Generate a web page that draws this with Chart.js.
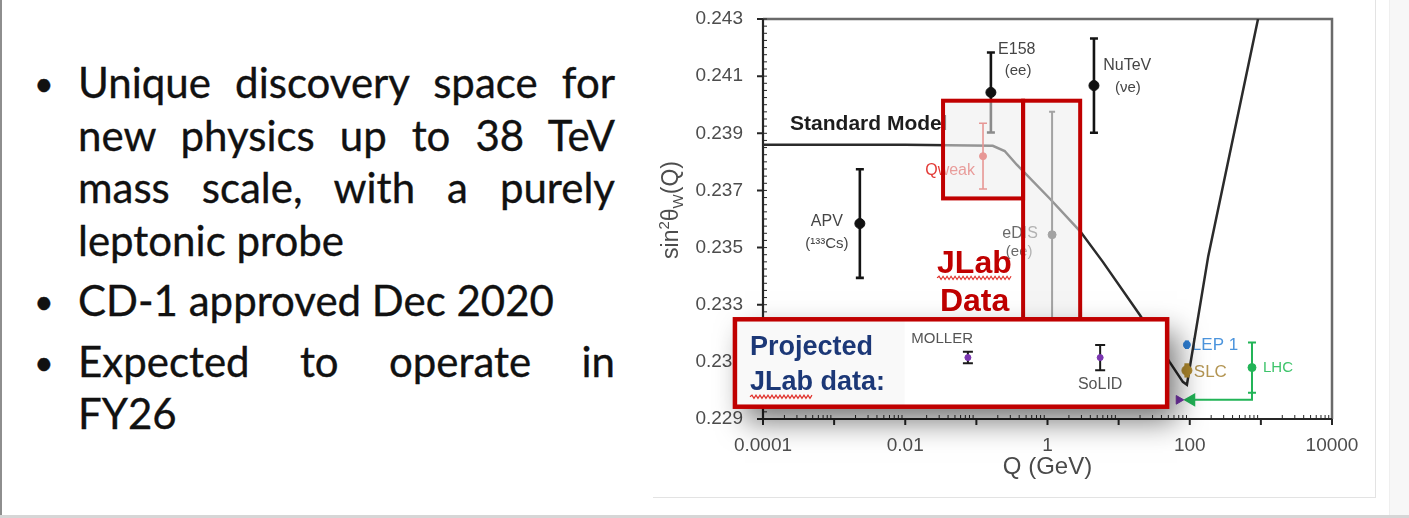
<!DOCTYPE html>
<html>
<head>
<meta charset="utf-8">
<script src="https://cdn.jsdelivr.net/npm/chart.js@4.4.1/dist/chart.umd.min.js"></script>
<style>
  html, body { margin: 0; padding: 0; background: #fff; }
  body { width: 1409px; height: 518px; position: relative; overflow: hidden; }
  #edgeL { position: absolute; left: 0; top: 0; width: 2px; height: 518px; background: #8e8e8e; }
  #edgeB { position: absolute; left: 0; top: 515px; width: 1409px; height: 3px; background: #d6d6d6; }
  #edgeR { position: absolute; left: 1389px; top: 0; width: 20px; height: 515px; background: #f7f7f7; border-left: 1px solid #efefef; }
  #frame { position: absolute; left: 653px; top: -2px; width: 722px; height: 499px;
           border-right: 1px solid #e3e3e3; border-bottom: 1px solid #e3e3e3; }
  #bullets { position: absolute; left: 78px; top: 56px; width: 537px;
             font-family: Lato, "Open Sans", sans-serif; font-size: 42px; line-height: 52.5px; color: #111;
             -webkit-text-stroke: 0.35px #111; }
  .item { position: relative; margin-bottom: 8px; }
  .dot { position: absolute; left: -44px; top: 1px; font-size: 34px; }
  .jl { display: block; text-align: justify; text-align-last: justify; white-space: nowrap; }
  .ll { display: block; white-space: nowrap; }
  #wrap { position: absolute; left: 653px; top: 0; width: 730px; height: 497px; }
  #wrap canvas { filter: blur(0.75px); }
</style>
</head>
<body>
<div id="edgeL"></div>
<div id="edgeR"></div>
<div id="edgeB"></div>
<div id="frame"></div>

<div id="bullets">
  <div class="item"><span class="dot">•</span>
    <span class="jl">Unique discovery space for</span>
    <span class="jl">new physics up to 38 TeV</span>
    <span class="jl">mass scale, with a purely</span>
    <span class="ll">leptonic probe</span>
  </div>
  <div class="item"><span class="dot">•</span>
    <span class="ll">CD-1 approved Dec 2020</span>
  </div>
  <div class="item"><span class="dot">•</span>
    <span class="jl">Expected to operate in</span>
    <span class="ll">FY26</span>
  </div>
</div>

<div id="wrap"><canvas id="c"></canvas></div>

<script>
// ---- axes ----
const Q_TICKS = [1e-4, 1e-2, 1, 1e2, 1e4];
const Q_TICK_LABELS = ['0.0001', '0.01', '1', '100', '10000'];
const S_TICKS = [0.229, 0.231, 0.233, 0.235, 0.237, 0.239, 0.241, 0.243];
const S_TICK_LABELS = ['0.229', '0.231', '0.233', '0.235', '0.237', '0.239', '0.241', '0.243'];

// ---- Standard Model running of sin^2(theta_W) ----
const smQ = [0.0001, 0.01, 0.17, 0.25, 0.37, 1.09, 2.9, 6.0, 20, 52, 80, 91.2, 182, 912];
const smS = [0.2386, 0.2386, 0.23856, 0.23838, 0.2379, 0.2367, 0.23556, 0.2345, 0.23263, 0.2310, 0.2303, 0.2302, 0.2347, 0.2430];

// ---- measurements ----
const worldNames = ['APV', 'E158', 'NuTeV'];
const worldQ   = [0.0023, 0.16, 4.5];
const worldS   = [0.23584, 0.24043, 0.24067];
const worldErr = [0.0019, 0.0014, 0.00165];

const qweakQ = [0.124];
const qweakS = [0.2382];
const qweakErr = [0.00115];

const edisQ = [1.16];
const edisS = [0.23545];
const edisErr = [0.0043];

const lepQ = [91.2];
const lepS = [0.2316];
const lepErr = [0.00015];

const slcQ = [91.2];
const slcS = [0.2307];
const slcErr = [0.00025];

const lhcQ = [750];
const lhcS = [0.2308];
const lhcErr = [0.00088];

// arrow from the LHC point back to the Z pole
const lhcArrowQ = [750, 750, 105];
const lhcArrowS = [0.22992, 0.22967, 0.22967];

const zPoleProjQ = [70];
const zPoleProjS = [0.22967];

// ---- projected JLab measurements ----
const projNames = ['MOLLER', 'SoLID'];
const projQ   = [0.076, 5.5];
const projS   = [0.23115, 0.23115];
const projErr = [0.0002, 0.00044];

const FONT = '"Liberation Sans", Arial, Helvetica, sans-serif';
const RED = '#c00000';
const NAVY = '#1c3877';

const pts = (qs, ss) => qs.map((q, i) => ({ x: q, y: ss[i] }));

// text placed in data coordinates (Q, sin^2)
const underLabels = [
  { text: 'Standard Model', q: 2.4e-4, s: 0.23933, size: 21, bold: true, color: '#1d1d1d', align: 'left' },
  { text: worldNames[0], q: 7.9e-4, s: 0.23591, size: 16, color: '#454545' },
  { text: '(¹³³Cs)', q: 7.9e-4, s: 0.23514, size: 15, color: '#454545' },
  { text: worldNames[1], q: 0.2018, s: 0.24194, size: 16, color: '#454545', align: 'left' },
  { text: '(ee)', q: 0.386, s: 0.2412, size: 15, color: '#454545' },
  { text: worldNames[2], q: 13.2, s: 0.24138, size: 16, color: '#454545' },
  { text: '(νe)', q: 13.5, s: 0.2406, size: 15, color: '#454545' },
  { text: 'Qweak', q: 0.0427, s: 0.23768, size: 16, color: '#e33a36' },
  { text: 'eDIS', q: 0.412, s: 0.23549, size: 16, color: '#6a6a6a' },
  { text: '(ee)', q: 0.40, s: 0.23486, size: 15, color: '#6a6a6a' },
  { text: 'LEP 1', q: 107, s: 0.23158, size: 17, color: '#4b94dd', align: 'left' },
  { text: 'SLC', q: 114, s: 0.23062, size: 17, color: '#b39552', align: 'left' },
  { text: 'LHC', q: 1070, s: 0.2308, size: 15, color: '#3ec46b', align: 'left' }
];

// JLab highlight panels (Q range, sin^2 range)
const qweakPanel = { q0: 0.034, q1: 0.454, s0: 0.23672, s1: 0.24014 };
const edisPanel  = { q0: 0.454, q1: 2.88,  s0: 0.23249, s1: 0.24014 };
const projPanel  = { q0: 4.03e-5, q1: 48.1, s0: 0.22943, s1: 0.23249 };

function drawText(ctx, xs, ys, L) {
  ctx.font = (L.bold ? 'bold ' : '') + L.size + 'px ' + FONT;
  ctx.fillStyle = L.color;
  ctx.textAlign = L.align || 'center';
  ctx.textBaseline = 'middle';
  ctx.fillText(L.text, xs.getPixelForValue(L.q), ys.getPixelForValue(L.s));
}

function squiggle(ctx, x0, x1, y, color) {
  ctx.save();
  ctx.strokeStyle = color; ctx.lineWidth = 1.2;
  ctx.beginPath();
  let up = true;
  ctx.moveTo(x0, y);
  for (let x = x0 + 2; x <= x1; x += 2) { ctx.lineTo(x, up ? y - 1.6 : y + 1.6); up = !up; }
  ctx.stroke();
  ctx.restore();
}

function rectOf(xs, ys, p) {
  const x0 = xs.getPixelForValue(p.q0), x1 = xs.getPixelForValue(p.q1);
  const y0 = ys.getPixelForValue(p.s1), y1 = ys.getPixelForValue(p.s0);
  return [x0, y0, x1 - x0, y1 - y0];
}

function drawErrors(chart, ds) {
  const ctx = chart.ctx, xs = chart.scales.x, ys = chart.scales.y;
  ctx.save();
  ctx.strokeStyle = ds.errColor;
  ctx.lineWidth = ds.errWidth;
  ds.data.forEach((p, i) => {
    const e = ds.errors[i];
    const x = xs.getPixelForValue(p.x);
    const yt = ys.getPixelForValue(p.y + e), yb = ys.getPixelForValue(p.y - e);
    ctx.beginPath();
    ctx.moveTo(x, yt); ctx.lineTo(x, yb);
    if (ds.capHalf) {
      ctx.moveTo(x - ds.capHalf, yt); ctx.lineTo(x + ds.capHalf, yt);
      ctx.moveTo(x - ds.capHalf, yb); ctx.lineTo(x + ds.capHalf, yb);
    }
    ctx.stroke();
  });
  ctx.restore();
}

function drawJLab(chart) {
  const ctx = chart.ctx, xs = chart.scales.x, ys = chart.scales.y;
  ctx.save();
  // translucent panels over Qweak and eDIS
  [qweakPanel, edisPanel].forEach(p => {
    const r = rectOf(xs, ys, p);
    ctx.fillStyle = 'rgba(236,236,236,0.55)';
    ctx.fillRect(...r);
  });
  ctx.strokeStyle = RED; ctx.lineWidth = 4;
  [qweakPanel, edisPanel].forEach(p => ctx.strokeRect(...rectOf(xs, ys, p)));

  // "JLab Data"
  ctx.font = 'bold 32px ' + FONT;
  ctx.fillStyle = RED; ctx.textAlign = 'left'; ctx.textBaseline = 'middle';
  const jx = xs.getPixelForValue(0.028), jy = ys.getPixelForValue(0.23443);
  ctx.fillText('JLab', jx, jy);
  squiggle(ctx, jx, jx + ctx.measureText('JLab').width, jy + 14, '#e0302a');
  ctx.fillText('Data', xs.getPixelForValue(0.0307), ys.getPixelForValue(0.23309));

  // projected data panel with a drop shadow
  const r = rectOf(xs, ys, projPanel);
  ctx.save();
  ctx.shadowColor = 'rgba(0,0,0,0.55)';
  ctx.shadowBlur = 28; ctx.shadowOffsetX = 10; ctx.shadowOffsetY = 14;
  ctx.fillStyle = '#ffffff';
  ctx.fillRect(...r);
  ctx.restore();
  ctx.fillStyle = '#f9f9f9';
  ctx.fillRect(r[0], r[1], xs.getPixelForValue(0.0098) - r[0], r[3]);
  ctx.strokeStyle = RED; ctx.lineWidth = 4.5;
  ctx.strokeRect(...r);

  ctx.font = 'bold 27px ' + FONT;
  ctx.fillStyle = NAVY; ctx.textAlign = 'left'; ctx.textBaseline = 'middle';
  const px = xs.getPixelForValue(6.56e-5);
  ctx.fillText('Projected', px, ys.getPixelForValue(0.23151));
  const dy = ys.getPixelForValue(0.23027);
  ctx.fillText('JLab data:', px, dy);
  squiggle(ctx, px, px + ctx.measureText('JLab').width, dy + 14, '#e0302a');

  drawText(ctx, xs, ys, { text: projNames[0], q: 0.033, s: 0.23179, size: 15, color: '#555' });
  drawText(ctx, xs, ys, { text: projNames[1], q: 5.5, s: 0.2302, size: 16, color: '#555' });
  ctx.restore();
}

const figurePlugin = {
  id: 'figure',
  beforeDraw(chart) { chart.$jlabDone = false; },
  beforeDatasetsDraw(chart) {
    const ctx = chart.ctx, xs = chart.scales.x, ys = chart.scales.y, a = chart.chartArea;
    ctx.save();
    // top and right frame
    ctx.strokeStyle = '#6a6a6a'; ctx.lineWidth = 2.5;
    ctx.beginPath();
    ctx.moveTo(a.left, a.top); ctx.lineTo(a.right, a.top); ctx.lineTo(a.right, a.bottom);
    ctx.stroke();
    // axes
    ctx.strokeStyle = '#262626'; ctx.lineWidth = 2.2;
    ctx.beginPath();
    ctx.moveTo(a.left, a.top); ctx.lineTo(a.left, a.bottom); ctx.lineTo(a.right, a.bottom);
    ctx.stroke();
    // y minor ticks (inside) and major ticks (outside)
    ctx.lineWidth = 1;
    ctx.beginPath();
    for (let i = 0; i <= 56; i++) {
      const y = ys.getPixelForValue(0.229 + i * 0.00025);
      ctx.moveTo(a.left, y); ctx.lineTo(a.left + 4, y);
    }
    ctx.stroke();
    ctx.lineWidth = 2;
    ctx.beginPath();
    S_TICKS.forEach(v => { const y = ys.getPixelForValue(v); ctx.moveTo(a.left - 6, y); ctx.lineTo(a.left, y); });
    ctx.stroke();
    // x log ticks
    ctx.lineWidth = 1;
    ctx.beginPath();
    for (let e = -4; e < 4; e++) {
      for (let k = 2; k <= 9; k++) {
        const x = xs.getPixelForValue(k * Math.pow(10, e));
        ctx.moveTo(x, a.bottom); ctx.lineTo(x, a.bottom - 4);
      }
    }
    ctx.stroke();
    ctx.lineWidth = 2;
    ctx.beginPath();
    for (let e = -4; e <= 4; e++) {
      const x = xs.getPixelForValue(Math.pow(10, e));
      ctx.moveTo(x, a.bottom); ctx.lineTo(x, a.bottom + 6);
    }
    ctx.stroke();

    // y-axis title: sin²θ_W(Q)
    ctx.save();
    ctx.translate(17, 210);
    ctx.rotate(-Math.PI / 2);
    ctx.fillStyle = '#4d4d4d';
    ctx.textBaseline = 'alphabetic';
    ctx.textAlign = 'left';
    const big = '23px ' + FONT, small = '15px ' + FONT;
    const parts = [['sin', big, 0], ['2', small, -9], ['θ', big, 0], ['W', small, 5], ['(Q)', big, 0]];
    let w = 0;
    parts.forEach(p => { ctx.font = p[1]; w += ctx.measureText(p[0]).width; });
    let x = -w / 2;
    parts.forEach(p => { ctx.font = p[1]; ctx.fillText(p[0], x, 8 + p[2]); x += ctx.measureText(p[0]).width; });
    ctx.restore();

    underLabels.forEach(L => drawText(ctx, xs, ys, L));
    ctx.restore();
  },
  beforeDatasetDraw(chart, args) {
    const ds = chart.data.datasets[args.index];
    if (ds.projected && !chart.$jlabDone) { drawJLab(chart); chart.$jlabDone = true; }
    if (ds.errors) drawErrors(chart, ds);
  }
};

new Chart(document.getElementById('c'), {
  type: 'scatter',
  data: {
    datasets: [
      { label: 'Standard Model', data: pts(smQ, smS), showLine: true, borderColor: '#2b2b2b',
        borderWidth: 2.5, pointRadius: 0, order: 9 },
      { label: 'APV / E158 / NuTeV', data: pts(worldQ, worldS), errors: worldErr, errColor: '#141414',
        errWidth: 2.6, capHalf: 4, pointRadius: 5, backgroundColor: '#111', borderColor: '#111', order: 5 },
      { label: 'Qweak', data: pts(qweakQ, qweakS), errors: qweakErr, errColor: '#e0302a',
        errWidth: 1.6, capHalf: 4, pointRadius: 3.5, backgroundColor: '#e0302a', borderColor: '#e0302a', order: 6 },
      { label: 'eDIS', data: pts(edisQ, edisS), errors: edisErr, errColor: '#4a4a4a',
        errWidth: 2, capHalf: 3, pointRadius: 4, backgroundColor: '#4a4a4a', borderColor: '#4a4a4a', order: 6 },
      { label: 'LEP 1', data: pts(lepQ, lepS), errors: lepErr, errColor: '#2f80d6',
        errWidth: 4, pointRadius: 3.5, backgroundColor: '#2f80d6', borderColor: '#2f80d6', order: 4 },
      { label: 'SLC', data: pts(slcQ, slcS), errors: slcErr, errColor: '#b08a2e',
        errWidth: 5, pointRadius: 5, backgroundColor: '#b08a2e', borderColor: '#b08a2e', order: 4 },
      { label: 'LHC', data: pts(lhcQ, lhcS), errors: lhcErr, errColor: '#22b457',
        errWidth: 2, capHalf: 4, pointRadius: 4, backgroundColor: '#22b457', borderColor: '#22b457', order: 4 },
      { label: 'LHC arrow', data: pts(lhcArrowQ, lhcArrowS), showLine: true, borderColor: '#22b457',
        borderWidth: 2, pointRadius: [0, 0, 6], pointStyle: 'triangle', rotation: -90,
        backgroundColor: '#22b457', order: 4 },
      { label: 'Z-pole projection', data: pts(zPoleProjQ, zPoleProjS), pointRadius: 5, pointStyle: 'triangle',
        rotation: 90, backgroundColor: '#7a35b0', borderColor: '#7a35b0', order: 4 },
      { label: 'Projected JLab', data: pts(projQ, projS), errors: projErr, errColor: '#1a1a1a',
        errWidth: 2, capHalf: 5, pointRadius: 3, backgroundColor: '#7a35b0', borderColor: '#7a35b0',
        projected: true, order: 0 }
    ]
  },
  options: {
    responsive: true,
    maintainAspectRatio: false,
    animation: false,
    devicePixelRatio: 1,
    events: [],
    layout: { padding: { left: 0, top: 19, right: 51, bottom: 0 } },
    plugins: { legend: { display: false }, tooltip: { enabled: false } },
    scales: {
      x: {
        type: 'logarithmic', position: 'bottom', min: 1e-4, max: 1e4,
        afterBuildTicks: s => { s.ticks = Q_TICKS.map(v => ({ value: v })); },
        afterFit: s => { s.height = 78; },
        grid: { display: false, drawTicks: false },
        border: { display: false },
        ticks: { callback: (v, i) => Q_TICK_LABELS[i], font: { family: FONT, size: 19 }, color: '#4d4d4d',
                 padding: 15, maxRotation: 0, autoSkip: false },
        title: { display: true, text: 'Q (GeV)', font: { family: FONT, size: 24 }, color: '#4a4a4a',
                 padding: { top: 0, bottom: 15 } }
      },
      y: {
        type: 'linear', min: 0.229, max: 0.243,
        afterBuildTicks: s => { s.ticks = S_TICKS.map(v => ({ value: v })); },
        // fixed axis width; the label gap must not push the plot area down
        afterFit: s => { s.width = 110; s.paddingTop = 0; s.paddingBottom = 0; },
        grid: { display: false, drawTicks: false },
        border: { display: false },
        ticks: { callback: (v, i) => S_TICK_LABELS[i], font: { family: FONT, size: 19 }, color: '#4d4d4d',
                 padding: 20, autoSkip: false }
      }
    }
  },
  plugins: [figurePlugin]
});
</script>
</body>
</html>
